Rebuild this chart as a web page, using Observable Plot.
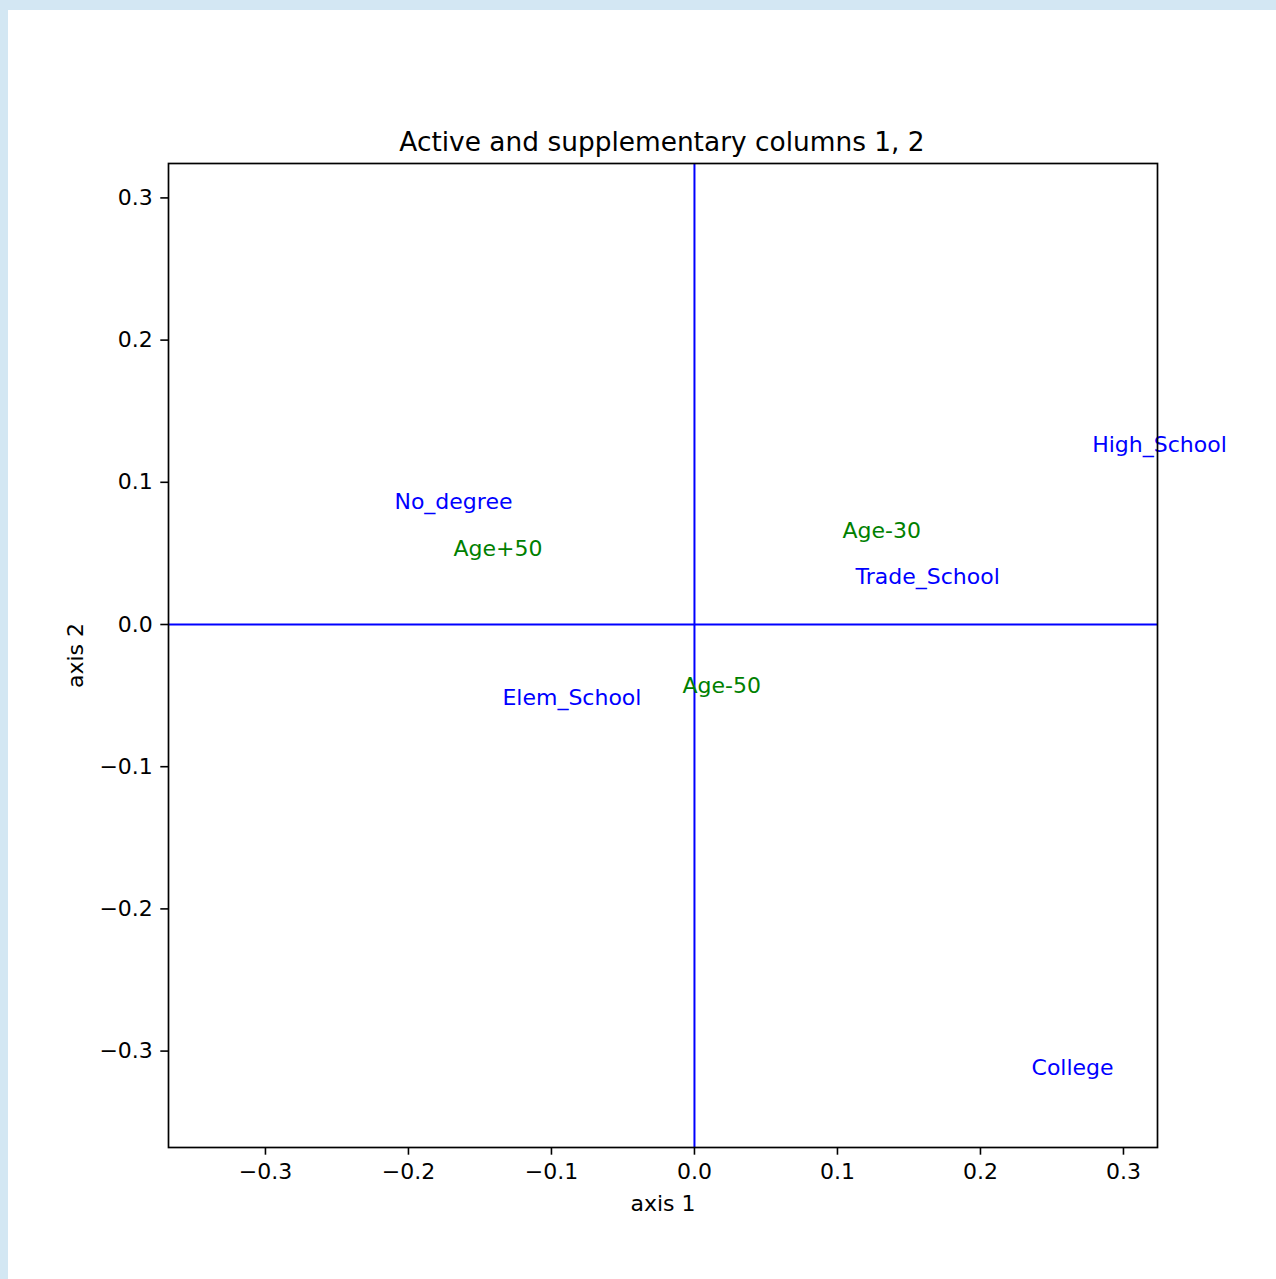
<!DOCTYPE html>
<html>
<head>
<meta charset="utf-8">
<script src="https://cdn.jsdelivr.net/npm/d3@7"></script>
<script src="https://cdn.jsdelivr.net/npm/@observablehq/plot@0.6"></script>
<style>
  html, body { margin: 0; padding: 0; background: #d3e7f3; }
  #panel { position: absolute; left: 8px; top: 10px; width: 1268px; height: 1269px; background: #ffffff; }
  #title { position: absolute; left: 0; width: 1308px; top: 118.7px; text-align: center;
           font-family: "DejaVu Sans"; font-size: 26.4px; line-height: 26.4px; color: #000; white-space: nowrap; }
  #chart { position: absolute; left: 0; top: 0; }
</style>
</head>
<body>
<div id="panel">
  <div id="chart"></div>
  <div id="title">Active and supplementary columns 1, 2</div>
</div>
<script>
const labels = ["High_School", "No_degree", "Age+50", "Age-30", "Trade_School", "Elem_School", "Age-50", "College"];
const axis1 = [0.2781, -0.2098, -0.1685, 0.1035, 0.1126, -0.1343, -0.0084, 0.2357];
const axis2 = [0.121, 0.0809, 0.0485, 0.0605, 0.0288, -0.0563, -0.0485, -0.3165];
const kinds = ["active", "active", "supplementary", "supplementary", "active", "active", "supplementary", "active"];
const xTicks = [-0.3, -0.2, -0.1, 0.0, 0.1, 0.2, 0.3];
const yTicks = [-0.3, -0.2, -0.1, 0.0, 0.1, 0.2, 0.3];
const xDomain = [-0.3678, 0.3238];
const yDomain = [-0.3678, 0.3242];

const rows = labels.map((l, i) => ({label: l, x: axis1[i], y: axis2[i], kind: kinds[i]}));
const fmt = d3.format(".1f");

const chart = Plot.plot({
  width: 1268,
  height: 1269,
  marginTop: 153,
  marginLeft: 160,
  marginRight: 119,
  marginBottom: 132,
  style: {fontFamily: "DejaVu Sans", fontSize: "22px", color: "#000", background: "transparent"},
  x: {domain: xDomain},
  y: {domain: yDomain},
  marks: [
    Plot.ruleY([0], {stroke: "blue", strokeWidth: 2}),
    Plot.ruleX([0], {stroke: "blue", strokeWidth: 2}),
    Plot.axisX(xTicks, {tickFormat: fmt, tickSize: 7.7, tickPadding: 8, strokeWidth: 1.6, fontSize: 22,
      label: "axis 1", labelAnchor: "center", labelArrow: "none", labelOffset: 63}),
    Plot.axisY(yTicks, {tickFormat: fmt, tickSize: 7.7, tickPadding: 8, strokeWidth: 1.6, fontSize: 22,
      label: "axis 2", labelAnchor: "center", labelArrow: "none", labelOffset: 101}),
    Plot.text(rows, {x: "x", y: "y", text: "label", textAnchor: "start", lineAnchor: "bottom",
      fill: d => d.kind === "active" ? "blue" : "green", fontSize: 22, fontFamily: "DejaVu Sans"}),
    Plot.frame({stroke: "black", strokeWidth: 1.7})
  ]
});
document.getElementById("chart").appendChild(chart);
</script>
</body>
</html>
